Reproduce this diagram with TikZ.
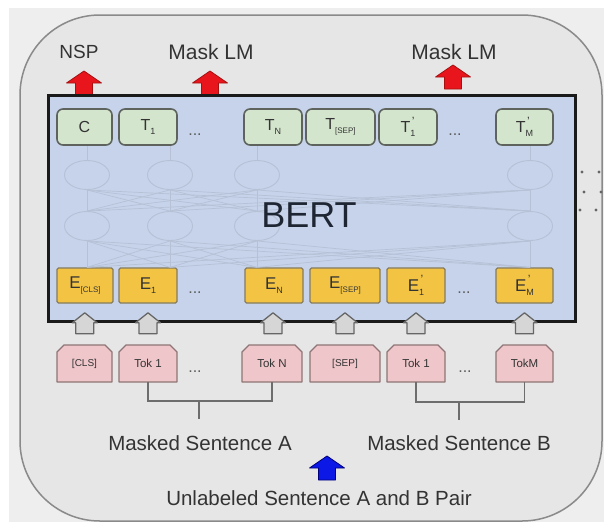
\documentclass[tikz,border=0pt]{standalone}
\usepackage{fontspec}
\setmainfont{Liberation Sans}
\usetikzlibrary{calc,shapes.geometric}
\definecolor{bgout}{HTML}{EEEEEE}
\definecolor{framefill}{HTML}{E6E6E6}
\definecolor{framedraw}{HTML}{8A8A8A}
\definecolor{bertfill}{HTML}{C6D3EA}
\definecolor{bertdraw}{HTML}{1A1A1A}
\definecolor{wirecol}{HTML}{B6C1D6}
\definecolor{tfill}{HTML}{D4E5CD}
\definecolor{tdraw}{HTML}{5E635E}
\definecolor{efill}{HTML}{F3C443}
\definecolor{edraw}{HTML}{857B5E}
\definecolor{tokfill}{HTML}{EFC6CA}
\definecolor{tokdraw}{HTML}{8E7575}
\definecolor{grayfill}{HTML}{D6D6D6}
\definecolor{graydraw}{HTML}{666666}
\definecolor{redfill}{HTML}{E8161C}
\definecolor{reddraw}{HTML}{A51010}
\definecolor{bluefill}{HTML}{0B18E6}
\definecolor{bluedraw}{HTML}{00007A}
\definecolor{txt}{HTML}{333333}
\definecolor{brk}{HTML}{6D6D6D}
\definecolor{berttxt}{HTML}{1F2633}
\pgfdeclarelayer{back}
\pgfdeclarelayer{tokback}
\pgfsetlayers{back,tokback,main}
\newcommand\bsub[2][8]{\raisebox{-0.5ex}{\fontsize{#1}{#1}\selectfont #2}}
\newcommand\bsubp[2][8]{\makebox[0pt][l]{\hspace{1.5pt}\raisebox{0.85ex}{\fontsize{12}{12}\selectfont '}}\raisebox{-0.5ex}{\fontsize{#1}{#1}\selectfont #2}\hspace{2pt}}
\newcommand\tokoutline[1]{%
  \begin{pgfonlayer}{tokback}
  \filldraw[tokshape] (#1.south west) -- ([yshift=-7pt]#1.north west) -- ([xshift=7pt]#1.north west)
    -- ([xshift=-7pt]#1.north east) -- ([yshift=-7pt]#1.north east) -- (#1.south east) -- cycle;
  \end{pgfonlayer}}
\tikzset{
  bigarrow/.pic={\path[pic actions] (-8.5,0) -- (-8.5,-12) -- (-17.5,-12) -- (0,-24) -- (17.5,-12) -- (8.5,-12) -- (8.5,0) -- cycle;},
  smallarrow/.pic={\path[pic actions] (-9,10.5) -- (-9,-0.5) -- (-12.5,-0.5) -- (0,-10.5) -- (12.5,-0.5) -- (9,-0.5) -- (9,10.5) -- cycle;},
  redarr/.style={fill=redfill, draw=reddraw, line width=0.8pt, line join=round},
  bluearr/.style={fill=bluefill, draw=bluedraw, line width=0.8pt, line join=round},
  grayarr/.style={fill=grayfill, draw=graydraw, line width=1.3pt, line join=round},
  tbox/.style={draw=tdraw, fill=tfill, line width=1.6pt, rounded corners=6pt, minimum height=36, inner sep=0, text=txt, font=\fontsize{16}{18}\selectfont},
  ebox/.style={draw=edraw, fill=efill, line width=1.2pt, rounded corners=1.5pt, minimum height=35, inner sep=0, text=txt, font=\fontsize{17}{19}\selectfont},
  tokbox/.style={minimum height=37, inner sep=0, outer sep=0, text=txt, font=\fontsize{11.5}{13}\selectfont},
  tokshape/.style={fill=tokfill, draw=tokdraw, line width=1.3pt, line join=round},
  neuron/.style={ellipse, draw=wirecol, line width=0.9pt, minimum width=45, minimum height=29, inner sep=0},
  wire/.style={draw=wirecol, line width=0.7pt},
  dotsn/.style={text=txt!80, font=\fontsize{16}{18}\selectfont, inner sep=0},
  toplab/.style={text=txt, font=\fontsize{21}{24}\selectfont, inner sep=0},
  botlab/.style={text=txt, font=\fontsize{20.5}{24}\selectfont, inner sep=0},
  bracket/.style={draw=brk, line width=1.2pt}
}
\begin{document}
\begin{tikzpicture}[x=1pt,y=-1pt]
\useasboundingbox (0,0) rectangle (604,522);
\begin{pgfonlayer}{back}
\fill[bgout] (0,0) rectangle (604,522);
\fill[white] (0,0) rectangle (9,522);
\fill[white] (0,0) rectangle (604,8);
\filldraw[fill=framefill, draw=framedraw, line width=1.5pt, rounded corners=80pt] (20,15) rectangle (602,521);
\end{pgfonlayer}

% output arrows and labels
\pic[redarr] at (84,95) {bigarrow};
\pic[redarr] at (210,95) {bigarrow};
\pic[redarr] at (453,89) {bigarrow};
\node[toplab, font=\fontsize{19}{22}\selectfont] (nsp) at (79,52) {NSP};
\node[toplab] (mlm1) at (211,52) {Mask LM};
\node[toplab] (mlm2) at (454,52) {Mask LM};

% BERT box
\node[draw=bertdraw, fill=bertfill, line width=3pt, minimum width=527, minimum height=226, inner sep=0] (bert) at (311.5,208) {};

% top outputs
\node[tbox, minimum width=55] (tc) at (84.5,127) {C};
\node[tbox, minimum width=58] (t1) at (148,127) {T\bsub[9]{1}};
\node[tbox, minimum width=58] (tn) at (273,127) {T\bsub[9]{N}};
\node[tbox, minimum width=69] (tsep) at (340.5,127) {T\bsub{[SEP]}};
\node[tbox, minimum width=58] (t1p) at (408,127) {T\bsubp[9]{1}};
\node[tbox, minimum width=57] (tmp) at (524.5,127) {T\bsubp[9]{M}};

% embeddings
\node[ebox, minimum width=56] (ecls) at (85,285.5) {E\bsub{[CLS]}};
\node[ebox, minimum width=58] (e1) at (148,285.5) {E\bsub[9]{1}};
\node[ebox, minimum width=58] (en) at (274,285.5) {E\bsub[9]{N}};
\node[ebox, minimum width=70] (esep) at (345,285.5) {E\bsub{[SEP]}};
\node[ebox, minimum width=58] (e1p) at (416,285.5) {E\bsubp[9]{1}};
\node[ebox, minimum width=57] (emp) at (524.5,285.5) {E\bsubp[9]{M}};

% faint transformer layers
\foreach \i/\x in {1/87,2/170,3/257,4/530}{
  \node[neuron] (la\i) at (\x,175) {};
  \node[neuron] (lb\i) at (\x,226) {};
}
\foreach \i in {1,...,4}{
  \draw[wire] (la\i.north) -- (la\i.north |- tc.south);
  \foreach \j in {1,...,4}{
    \draw[wire] (la\i.south) -- (lb\j.north);
    \draw[wire] (lb\i.south) -- (lb\j.south |- ecls.north);
  }
}
\node[text=berttxt, font=\fontsize{36}{40}\selectfont, inner sep=0] (bertlab) at (309,215) {BERT};

% dots
\node[dotsn] (d1) at (195,135) {...};
\node[dotsn] (d2) at (455,135) {...};
\node[dotsn] (d3) at (195,293) {...};
\node[dotsn] (d4) at (464,293) {...};
\node[dotsn] (d5) at (195,372) {...};
\node[dotsn] (d6) at (465,372) {...};

% input tokens
\node[tokbox, minimum width=55, font=\fontsize{10}{12}\selectfont] (cls) at (84.5,363.5) {[CLS]};
\node[tokbox, minimum width=58] (tok1) at (148,363.5) {Tok 1};
\node[tokbox, minimum width=60] (tokn) at (272,363.5) {Tok N};
\node[tokbox, minimum width=70, font=\fontsize{10}{12}\selectfont] (sep) at (345,363.5) {[SEP]};
\node[tokbox, minimum width=58] (tok1p) at (416,363.5) {Tok 1};
\node[tokbox, minimum width=57] (tokm) at (524.5,363.5) {TokM};
\foreach \n in {cls,tok1,tokn,sep,tok1p,tokm}{\tokoutline{\n}}

% gray input arrows
\foreach \e/\t in {ecls/cls,e1/tok1,en/tokn,esep/sep,e1p/tok1p,emp/tokm}{
  \pic[grayarr] at ($(\e.south)!0.5!(\t.north)+(0,-1)$) {smallarrow};
}

% right-side dots
\foreach \p in {(582,172),(599,172),(584,192),(601,192),(580,210),(596,210)}{
  \fill[graydraw] \p circle (1.6pt);
}

% sentence labels and brackets
\node[botlab] (sa) at (200,443) {Masked Sentence A};
\node[botlab] (sb) at (459,443) {Masked Sentence B};
\node[botlab] (pair) at (319,498) {Unlabeled Sentence A and B Pair};
\coordinate (ba) at (199,401);
\coordinate (bae) at (199,419);
\coordinate (bb) at (459,402);
\coordinate (bbe) at (459,420);
\draw[bracket] (tok1.south) |- (tokn.south |- ba) -- (tokn.south);
\draw[bracket] (ba) -- (bae);
\draw[bracket] (tok1p.south) |- (tokm.south |- bb) -- (tokm.south);
\draw[bracket] (bb) -- (bbe);
\pic[bluearr] at (327,480) {bigarrow};
\end{tikzpicture}
\end{document}
